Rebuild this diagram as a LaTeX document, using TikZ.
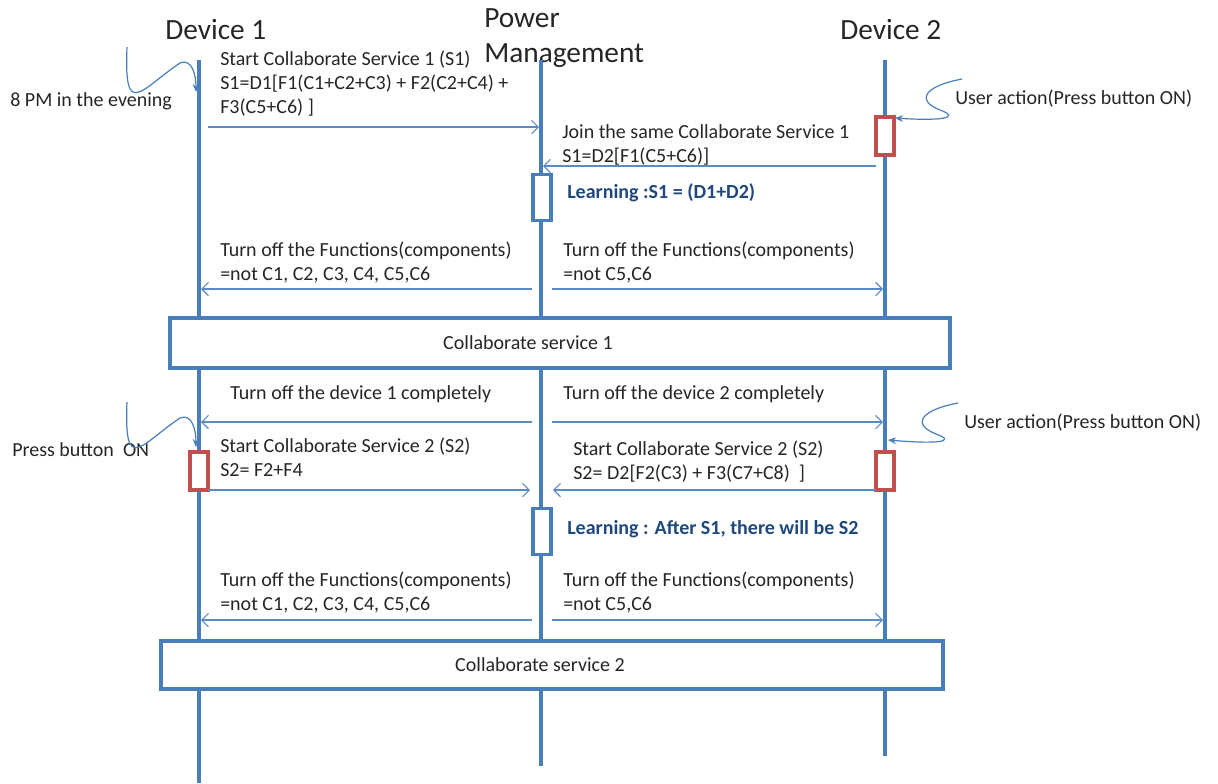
\documentclass[tikz,border=0pt]{standalone}
\usepackage{fontspec}
\setmainfont{Carlito}
\usetikzlibrary{arrows.meta,positioning}
\definecolor{life}{HTML}{4A7EBB}
\definecolor{msgline}{HTML}{5B8AC6}
\definecolor{actred}{HTML}{C0504D}
\definecolor{learn}{HTML}{1F497D}
\definecolor{ink}{HTML}{262626}
\tikzset{
  title/.style={font=\fontsize{22}{26}\selectfont,text=ink,inner sep=0pt,align=left,anchor=base west},
  lifeline/.style={draw=life,line width=2.3pt},
  msg/.style={-{Straight Barb[length=5pt,width=10pt]},line width=0.8pt,draw=msgline},
  msgtext/.style={font=\fontsize{15}{18}\selectfont,text=ink,inner sep=0pt,align=left,anchor=base west},
  actbox/.style={draw=actred,fill=white,line width=2.3pt,minimum width=13.5pt,minimum height=28.5pt,inner sep=0pt},
  learnbox/.style={draw=life,fill=white,line width=2.3pt,minimum width=13.5pt,minimum height=35pt,inner sep=0pt},
  learntext/.style={font=\fontsize{15}{18}\selectfont\bfseries,text=learn,inner sep=0pt,anchor=base west},
  svcbox/.style={draw=life,fill=white,line width=2.3pt,inner sep=0pt,font=\fontsize{15}{18}\selectfont,text=ink},
  note/.style={font=\fontsize{15}{18}\selectfont,text=ink,inner sep=0pt,anchor=base west},
  hook/.style={draw=life,line width=0.9pt},
  hookarrow/.style={hook,-{Stealth[length=6pt,width=5pt]}}
}
\begin{document}
\begin{tikzpicture}[x=0.75pt,y=-0.75pt]
    \useasboundingbox[fill=white] (0,0) rectangle (1218,783);
    \node[title] (dev1) at (165,39) {Device 1};
    \node[title] (pm) at (484,62) {Power\\Management};
    \node[title] (dev2) at (840,39) {Device 2};

    \path (199,60) coordinate (d1top) (199,783) coordinate (d1bot)
          (541,60) coordinate (pmtop) (541,766) coordinate (pmbot)
          (885,60) coordinate (d2top) (885,756) coordinate (d2bot);
    \draw[lifeline] (d1top) -- (d1bot);
    \draw[lifeline] (pmtop) -- (pmbot);
    \draw[lifeline] (d2top) -- (d2bot);

    \node[actbox] (act1) at (885,136) {};
    \node[learnbox] (learn1) at (542,197.5) {};
    \node[svcbox,minimum width=585pt,minimum height=37.5pt] (svc1) at (560,343) {\hspace*{-48pt}Collaborate service 1};
    \node[actbox] (act2) at (199,471) {};
    \node[actbox] (act3) at (885,471) {};
    \node[learnbox] (learn2) at (542,531.5) {};
    \node[svcbox,minimum width=586.5pt,minimum height=36pt] (svc2) at (552,665) {\hspace*{-18pt}Collaborate service 2};

    \path (208,127) coordinate (m1a) (539,127) coordinate (m1b)
          (876,166) coordinate (m2a) (543,166) coordinate (m2b)
          (532,289) coordinate (m3a) (201,289) coordinate (m3b)
          (552,289) coordinate (m4a) (883,289) coordinate (m4b)
          (532,422) coordinate (m5a) (201,422) coordinate (m5b)
          (552,422) coordinate (m6a) (883,422) coordinate (m6b)
          (208,490) coordinate (m7a) (530,490) coordinate (m7b)
          (876,490) coordinate (m8a) (553,490) coordinate (m8b)
          (532,620) coordinate (m9a) (201,620) coordinate (m9b)
          (552,620) coordinate (m10a) (883,620) coordinate (m10b);
    \draw[msg] (m1a) -- (m1b);
    \draw[msg] (m2a) -- (m2b);
    \draw[msg] (m3a) -- (m3b);
    \draw[msg] (m4a) -- (m4b);
    \draw[msg] (m5a) -- (m5b);
    \draw[msg] (m6a) -- (m6b);
    \draw[msg] (m7a) -- (m7b);
    \draw[msg] (m8a) -- (m8b);
    \draw[msg] (m9a) -- (m9b);
    \draw[msg] (m10a) -- (m10b);

    \node[msgtext] (t1) at (220,113) {Start Collaborate Service 1 (S1)\\S1=D1[F1(C1+C2+C3) + F2(C2+C4) +\\F3(C5+C6) ]};
    \node[msgtext] (t2) at (562,162) {Join the same Collaborate Service 1\\S1=D2[F1(C5+C6)]};
    \node[learntext] (l1) at (567,198) {Learning :S1 = (D1+D2)};
    \node[msgtext] (t3) at (220,280) {Turn off the Functions(components)\\=not C1, C2, C3, C4, C5,C6};
    \node[msgtext] (t4) at (563,280) {Turn off the Functions(components)\\=not C5,C6};
    \node[msgtext] (t5) at (230,399) {Turn off the device 1 completely};
    \node[msgtext] (t6) at (563,399) {Turn off the device 2 completely};
    \node[msgtext] (t7) at (220,476) {Start Collaborate Service 2 (S2)\\S2= F2+F4};
    \node[msgtext] (t8) at (573,479) {Start Collaborate Service 2 (S2)\\S2= D2[F2(C3) + F3(C7+C8)~~]};
    \node[learntext] (l2) at (567,534) {Learning : After S1, there will be S2};
    \node[msgtext] (t9) at (220,610) {Turn off the Functions(components)\\=not C1, C2, C3, C4, C5,C6};
    \node[msgtext] (t10) at (563,610) {Turn off the Functions(components)\\=not C5,C6};

    \node[note] (eve) at (10,106) {8 PM in the evening};
    \node[note] (user1) at (955,104) {User action(Press button ON)};
    \node[note] (press) at (12,456) {Press button~~ON};
    \node[note] (user2) at (964,428) {User action(Press button ON)};

    \path (127,47) coordinate (h1a) (196,92) coordinate (h1b)
          (962,79) coordinate (h2a) (895,118) coordinate (h2b)
          (127,402) coordinate (h3a) (196,447) coordinate (h3b)
          (958,403) coordinate (h4a) (888,440) coordinate (h4b);
    \draw[hookarrow] (h1a) .. controls (124,120) and (140,90) .. (180,63) .. controls (192,58) and (196,75) .. (h1b);
    \draw[hookarrow] (h2a) .. controls (925,86) and (915,100) .. (940,110) .. controls (962,118) and (940,121) .. (h2b);
    \draw[hookarrow] (h3a) .. controls (124,475) and (140,445) .. (180,418) .. controls (192,413) and (196,430) .. (h3b);
    \draw[hookarrow] (h4a) .. controls (921,410) and (911,424) .. (936,434) .. controls (958,442) and (936,444) .. (h4b);
\end{tikzpicture}
\end{document}
